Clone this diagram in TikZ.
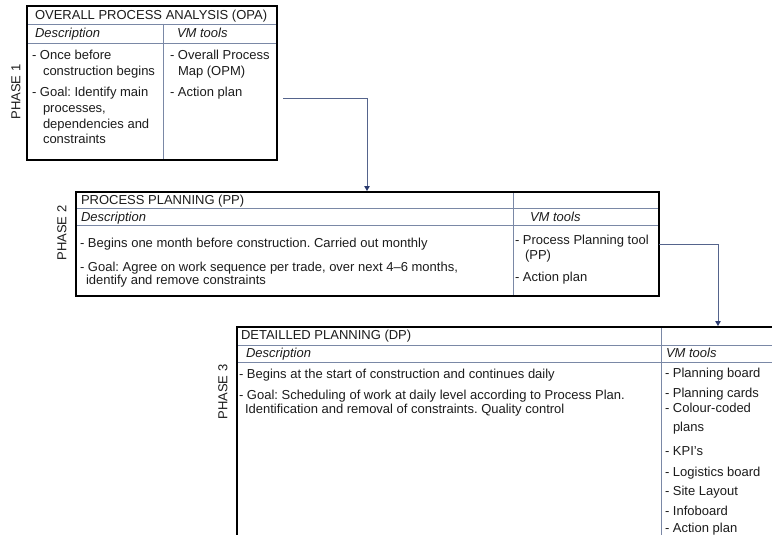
\documentclass[tikz,border=0pt]{standalone}
\usepackage{fontspec}
\setmainfont{Liberation Sans}
\usetikzlibrary{calc,arrows.meta}
\definecolor{gridc}{HTML}{7A88A6}
\definecolor{connc}{HTML}{55648C}
\definecolor{tipc}{HTML}{2A3A6E}
\definecolor{ink}{HTML}{1C1C1C}
\frenchspacing
\begin{document}
\begin{tikzpicture}[x=1pt,y=-1pt,
 frame/.style={draw=black, line width=2.3pt, inner sep=0pt, outer sep=0pt, anchor=north west},
 rule/.style={draw=gridc, line width=0.9pt},
 txt/.style={anchor=base west, inner sep=0pt, outer sep=0pt, font=\fontsize{13}{16}\selectfont, text=ink},
 hd/.style={txt, font=\fontsize{13}{16}\selectfont\itshape},
 phase/.style={rotate=90, inner sep=0pt, font=\fontsize{13}{16}\selectfont, text=ink},
 connector/.style={draw=connc, line width=0.9pt, shorten >=1pt, -{Triangle[length=5pt,width=5.5pt,color=tipc,fill=tipc]}}
]
\useasboundingbox (0,0) rectangle (772,535);
\clip (0,0) rectangle (772,535);
\fill[white] (0,0) rectangle (772,535);

% ---------- Box 1 ----------
\draw[rule] (27,24) -- (277,24);
\draw[rule] (27,43) -- (277,43);
\draw[rule] (163,24) -- (163,160);
\node[frame, minimum width=250pt, minimum height=154pt] (opa) at (27,6) {};
\node[txt] (opat) at (35,20) {OVERALL PROCESS ANALYSIS (OPA)};
\node[hd] (opad) at (35,38) {Description};
\node[hd] (opav) at (177,38) {VM tools};
\node[txt] (opa1) at (32,59.5) {- Once before};
\node[txt] (opa2) at (43,75.5) {construction begins};
\node[txt] (opa3) at (32,96.5) {- Goal: Identify main};
\node[txt] (opa4) at (43,112.5) {processes,};
\node[txt] (opa5) at (43,128.5) {dependencies and};
\node[txt] (opa6) at (43,143.5) {constraints};
\node[txt] (opa7) at (170,59.5) {- Overall Process};
\node[txt] (opa8) at (178,75.5) {Map (OPM)};
\node[txt] (opa9) at (170,96.5) {- Action plan};
\node[phase] (ph1) at (16,92) {PHASE 1};

% ---------- Box 2 ----------
\draw[rule] (76,208) -- (659,208);
\draw[rule] (76,225) -- (659,225);
\draw[rule] (513,192) -- (513,296);
\node[frame, minimum width=583pt, minimum height=104pt] (pp) at (76,192) {};
\node[txt] (ppt) at (81,204.5) {PROCESS PLANNING (PP)};
\node[hd] (ppd) at (81,221) {Description};
\node[hd] (ppv) at (530,221) {VM tools};
\node[txt] (pp1) at (80,247.5) {- Begins one month before construction. Carried out monthly};
\node[txt] (pp2) at (80,271.5) {- Goal: Agree on work sequence per trade, over next 4–6 months,};
\node[txt] (pp3) at (86,284.5) {identify and remove constraints};
\node[txt] (pp4) at (515,244.5) {- Process Planning tool};
\node[txt] (pp5) at (525,259.5) {(PP)};
\node[txt] (pp6) at (515,281.5) {- Action plan};
\node[phase] (ph2) at (62,233) {PHASE 2};

% ---------- Box 3 ----------
\draw[rule] (237,345) -- (772,345);
\draw[rule] (237,362) -- (772,362);
\draw[rule] (661,327) -- (661,540);
\node[frame, minimum width=560pt, minimum height=230pt] (dp) at (237,327) {};
\node[txt] (dpt) at (241,339.5) {DETAILLED PLANNING (DP)};
\node[hd] (dpd) at (246,357.5) {Description};
\node[hd] (dpv) at (666,357.5) {VM tools};
\node[txt] (dp1) at (239,378.5) {- Begins at the start of construction and continues daily};
\node[txt] (dp2) at (239,399.5) {- Goal: Scheduling of work at daily level according to Process Plan.};
\node[txt] (dp3) at (245,413.5) {Identification and removal of constraints. Quality control};
\node[txt] (dp4) at (665,377.5) {- Planning board};
\node[txt] (dp5) at (665,397.5) {- Planning cards};
\node[txt] (dp6) at (665,412.5) {- Colour-coded};
\node[txt] (dp7) at (673,431.5) {plans};
\node[txt] (dp8) at (665,455.5) {- KPI’s};
\node[txt] (dp9) at (665,476.5) {- Logistics board};
\node[txt] (dp10) at (665,495.5) {- Site Layout};
\node[txt] (dp11) at (665,515.5) {- Infoboard};
\node[txt] (dp12) at (665,532.5) {- Action plan};
\node[phase] (ph3) at (223,392) {PHASE 3};

% ---------- Connectors ----------
\coordinate (a1) at ($(opa.north east)+(6,92)$);
\draw[connector] (a1) -| ($(pp.north west)+(291,0)$);
\draw[connector] ($(pp.north east)+(0,52)$) -| ($(dp.north west)+(481,0)$);
\end{tikzpicture}
\end{document}
